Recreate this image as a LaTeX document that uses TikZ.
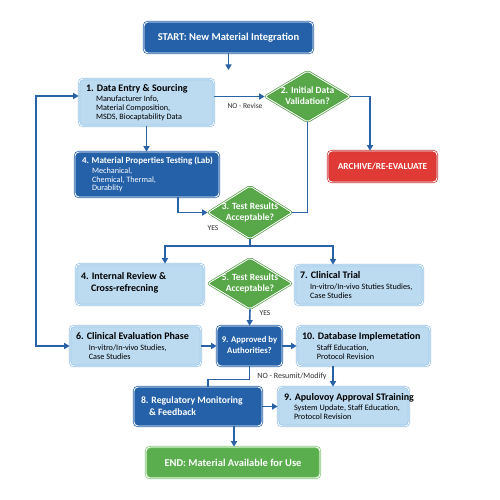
\documentclass[tikz,border=0pt]{standalone}
\usepackage{fontspec}
\setmainfont{Carlito}
\usetikzlibrary{arrows.meta,shapes.geometric}
\definecolor{dblue}{HTML}{2461A8}
\definecolor{lineblue}{HTML}{2A62A8}
\definecolor{lfill}{HTML}{BCDAF0}
\definecolor{lborder}{HTML}{93C2E6}
\definecolor{gfill}{HTML}{58A84A}
\definecolor{gborder}{HTML}{4F9C42}
\definecolor{efill}{HTML}{5BAE4E}
\definecolor{eborder}{HTML}{86CA78}
\definecolor{rfill}{HTML}{E03A36}
\definecolor{rborder}{HTML}{D03030}
\definecolor{subgray}{HTML}{2E2E2E}
\newcommand\lb{\raggedright\spaceskip=0pt\xspaceskip=0pt\hyphenpenalty=10000\exhyphenpenalty=10000}
\newcommand\bt[2][10]{\fontsize{#1}{12}\selectfont\bfseries\mbox{#2}}
\newcommand\sbl[1][10pt]{\fontsize{8.2}{8.8}\selectfont\mdseries\hspace*{#1}}
\newcommand\twol[2]{\begin{tabular}{@{}c@{}}#1\\#2\end{tabular}}
\begin{document}
\begin{tikzpicture}[x=1pt,y=-1pt,
  conn/.style={draw=lineblue, line width=1.6pt},
  arr/.style={conn, -{Triangle[length=5.5pt,width=6pt]}},
  arrboth/.style={conn, {Triangle[length=5.5pt,width=6pt]}-{Triangle[length=5.5pt,width=6pt]}},
  base/.style={rounded corners=4pt, double=white, double distance=0.9pt, line width=0.7pt, inner ysep=0pt},
  lbox/.style={base, draw=lborder, fill=lfill, text=black},
  dbox/.style={base, draw=dblue, fill=dblue, text=white},
  ebox/.style={base, draw=eborder, fill=efill, text=white},
  rbox/.style={base, draw=rborder, fill=rfill, text=white},
  tbox/.style={inner xsep=7pt},
  cfont/.style={font=\fontsize{10.5}{12}\selectfont\bfseries},
  dia/.style={diamond, rounded corners=2pt, draw=gborder, fill=gfill, double=white, double distance=0.9pt, line width=0.7pt, inner sep=0pt},
  dtext/.style={text=white, font=\fontsize{9.5}{11}\selectfont\bfseries, inner sep=0pt},
  lbl/.style={font=\fontsize{7.5}{9}\selectfont, text=subgray}
]
\useasboundingbox (0,0) rectangle (500,500);
\fill[white] (0,0) rectangle (500,500);

% nodes
\node[dbox, cfont, minimum width=169pt, minimum height=31pt] (start) at (228.5,37.5) {START: New Material Integration};
\coordinate (c0) at (228.5,70);

\node[lbox, tbox, minimum width=135pt, minimum height=47pt, text width=121pt] (b1) at (146.5,102.5)
  {\lb\bt{1. Data Entry \& Sourcing}\\[1.5pt] \sbl Manufacturer Info,\\ \sbl Material Composition,\\ \sbl MSDS, Biocaptability Data\par};

\node[dia, minimum width=85pt, minimum height=51pt] (d2) at (307.5,96.5) {};
\node[dtext] (d2t) at (d2) {\twol{2. Initial Data}{Validation?}};

\node[rbox, font=\fontsize{9.3}{11}\selectfont\bfseries, minimum width=109pt, minimum height=31pt] (arch) at (382.5,166.5) {ARCHIVE/RE-EVALUATE};

\node[dbox, tbox, minimum width=144pt, minimum height=45pt, text width=130pt] (b4) at (147,174.5)
  {\lb\bt[9]{4. Material Properties Testing (Lab)}\\[1pt] \sbl Mechanical,\\ \sbl Chemical, Thermal,\\ \sbl Durablity\par};

\node[dia, minimum width=84pt, minimum height=53pt] (d3) at (250,212.5) {};
\node[dtext] (d3t) at (d3) {\twol{3. Test Results}{Acceptable?}};

\node[lbox, tbox, minimum width=128pt, minimum height=41pt, text width=118pt, inner xsep=5pt] (b4b) at (140,284.5)
  {\lb\bt{4. Internal Review \&}\\ \hspace*{10pt}\mbox{Cross-refrecning}\par\vspace{4pt}};

\node[dia, minimum width=84pt, minimum height=51pt] (d5) at (250,283.5) {};
\node[dtext] (d5t) at (d5) {\twol{5. Test Results}{Acceptable?}};

\node[lbox, tbox, minimum width=128pt, minimum height=40pt, text width=118pt, inner xsep=5pt] (b7) at (359,285)
  {\lb\bt{7. Clinical Trial}\\[1.5pt] \sbl In-vitro/In-vivo Stuties Studies,\\ \sbl Case Studies\par};

\node[lbox, tbox, minimum width=131pt, minimum height=40pt, text width=119pt, inner xsep=6pt] (b6) at (135.5,346)
  {\lb\bt{6. Clinical Evaluation Phase}\\[1.5pt] \sbl[11pt] In-vitro/In-vivo Studies,\\ \sbl[11pt] Case Studies\par};

\node[dbox, font=\fontsize{8.7}{11}\selectfont\bfseries, minimum width=65pt, minimum height=40pt, inner xsep=0pt] (b9) at (249.5,346) {\twol{9. Approved by}{Authorities?}};

\node[lbox, tbox, minimum width=133pt, minimum height=40pt, text width=123pt, inner xsep=5pt] (b10) at (363.5,346)
  {\lb\bt{10. Database Implemetation}\\[1.5pt] \sbl[13pt] Staff Education,\\ \sbl[13pt] Protocol Revision\par};

\node[dbox, tbox, minimum width=128pt, minimum height=39pt, text width=114pt] (b8) at (198,406.5)
  {\lb\bt[9.7]{8. Regulatory Monitoring}\\ \hspace*{8pt}\mbox{\& Feedback}\par};

\node[lbox, tbox, minimum width=131pt, minimum height=39pt, text width=119pt, inner xsep=6pt] (b9b) at (343.5,406.5)
  {\lb\bt{9. Apulovoy Approval STraining}\\[1.5pt] \sbl System Update, Staff Education,\\ \sbl Protocol Revision\par};

\node[ebox, cfont, minimum width=174pt, minimum height=31pt] (endn) at (233,462.5) {END: Material Available for Use};

% labels
\node[lbl] (lnr) at (245,105.5) {NO - Revise};
\node[lbl] (ly3) at (213,228) {YES};
\node[lbl] (ly5) at (265,313.5) {YES};
\node[lbl, font=\fontsize{8}{9}\selectfont] (lnm) at (292,376) {NO - Resumit/Modify};

% connectors
\draw[arr] (start.south) -- (c0);
\draw[arr] (b1.east |- d2) -- (d2.west);
\draw[arr] (d2.east) -| ([xshift=-12.5pt]arch.north);
\draw[conn] (d2.south) |- (d3.east);
\draw[arr] (b1.south) -- (b1.south |- b4.north);
\draw[arr] ([xshift=31pt]b4.south) |- (d3.west);
\coordinate (j3) at (250,246);
\draw[conn] (d3.south) -- (j3);
\draw[arr] (j3) -| ([xshift=25pt]b4b.north);
\draw[arr] (j3) -| ([xshift=-26pt]b7.north);
\draw[arr] (d5.south) -- (b9.north);
\draw[arrboth] ([yshift=6.5pt]b1.west) -- (36,96) |- (b6.west);
\draw[arr] (b6.east) -- (b9.west);
\draw[arr] (b9.east) -- (b10.west);
\draw[arr] ([xshift=-30.5pt]b10.south) -- ([xshift=-30.5pt]b10.south |- b9b.north);
\draw[conn] (b9.south) -- ++(0,13) -| ([xshift=10pt]b8.north);
\draw[arr] (b8.east) -- (b9b.west);
\draw[arr] ([xshift=36pt]b8.south) -- ([xshift=36pt]b8.south |- endn.north);
\end{tikzpicture}
\end{document}
